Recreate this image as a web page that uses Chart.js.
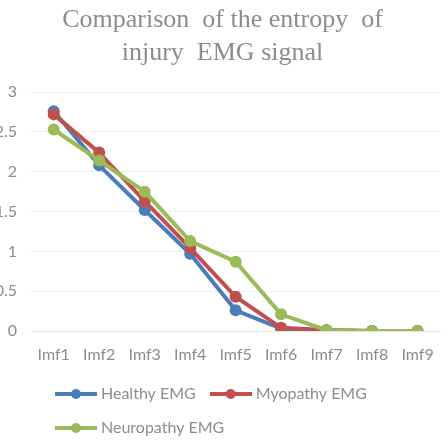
<!DOCTYPE html>
<html lang="en">
<head>
    <meta charset="UTF-8">
    <title>Entropy of injury EMG signal</title>
    <script src="https://cdn.jsdelivr.net/npm/chart.js"></script>
    <style>
        html, body { margin: 0; padding: 0; background: #fff; overflow: hidden; }
        canvas { display: block; }
    </style>
</head>
<body>
    <canvas id="entropyChart" width="448" height="440"></canvas>
    <script>
const imfLabels = ['Imf1', 'Imf2', 'Imf3', 'Imf4', 'Imf5', 'Imf6', 'Imf7', 'Imf8', 'Imf9'];
const healthy = [2.76, 2.08, 1.52, 0.97, 0.26, 0.03, 0.01, 0, 0];
const myopathy = [2.72, 2.24, 1.63, 1.04, 0.43, 0.04, 0.01, 0, 0];
const neuropathy = [2.53, 2.14, 1.75, 1.13, 0.87, 0.21, 0.01, 0, 0];
const seriesNames = ['Healthy EMG', 'Myopathy EMG', 'Neuropathy EMG'];
const yTicks = [0, 0.5, 1, 1.5, 2, 2.5, 3];

const colors = ['#4a7ebb', '#c0504d', '#9bbb59'];
const grey = '#8c8c8c';

// little line-with-dot marker for the legend
function legendMarker(color) {
    const c = document.createElement('canvas');
    c.width = 42; c.height = 12;
    const g = c.getContext('2d');
    g.strokeStyle = color;
    g.lineWidth = 4;
    g.beginPath(); g.moveTo(0, 6); g.lineTo(42, 6); g.stroke();
    g.fillStyle = color;
    g.beginPath(); g.arc(21, 6, 5, 0, Math.PI * 2); g.fill();
    return c;
}

const allSeries = [healthy, myopathy, neuropathy];
const datasets = allSeries.map((vals, i) => ({
    label: seriesNames[i],
    data: vals,
    borderColor: colors[i],
    backgroundColor: colors[i],
    borderWidth: 4,
    pointRadius: 6,
    pointHoverRadius: 6,
    pointBorderWidth: 0,
    tension: 0,
    order: allSeries.length - i
}));

// move the legend rows to line up under the plot like the original
const shiftLegend = {
    id: 'shiftLegend',
    afterLayout(chart) {
        chart.legend.left = 41;
        chart.legend.top += 6;
    }
};

new Chart(document.getElementById('entropyChart'), {
    type: 'line',
    data: { labels: imfLabels, datasets: datasets },
    plugins: [shiftLegend],
    options: {
        responsive: false,
        animation: false,
        layout: { padding: { left: 0, right: 3, top: 0, bottom: 0 } },
        plugins: {
            title: {
                display: true,
                text: ['Comparison  of the entropy  of', 'injury  EMG signal'],
                color: grey,
                font: { family: '"Liberation Serif", "Times New Roman", serif', size: 26, weight: 'normal', lineHeight: 1.29 },
                padding: { top: 3, bottom: 22 }
            },
            legend: {
                position: 'bottom',
                align: 'start',
                labels: {
                    usePointStyle: true,
                    pointStyleWidth: 34,
                    padding: 18,
                    color: grey,
                    font: { family: 'Lato', size: 16 },
                    generateLabels: chart => chart.data.datasets.map((ds, i) => ({
                        text: ds.label,
                        fontColor: grey,
                        pointStyle: legendMarker(ds.borderColor),
                        fillStyle: ds.borderColor,
                        strokeStyle: ds.borderColor,
                        lineWidth: 0,
                        hidden: false,
                        datasetIndex: i
                    }))
                }
            },
            tooltip: { enabled: false }
        },
        scales: {
            x: {
                offset: true,
                grid: { display: false, drawTicks: false },
                border: { display: true, color: '#e6e6e6' },
                ticks: { color: grey, font: { family: 'Lato', size: 16 }, padding: 14 },
                afterFit: scale => { scale.height = 31; }
            },
            y: {
                min: 0,
                max: 3,
                grid: { color: '#eeeeee', drawTicks: false },
                border: { display: false },
                afterBuildTicks: scale => { scale.ticks = yTicks.map(v => ({ value: v })); },
                ticks: {
                    color: grey,
                    font: { family: 'Lato', size: 16 },
                    padding: 14,
                    callback: value => String(value)
                },
                afterFit: scale => { scale.width = 31; }
            }
        }
    }
});
    </script>
</body>
</html>
